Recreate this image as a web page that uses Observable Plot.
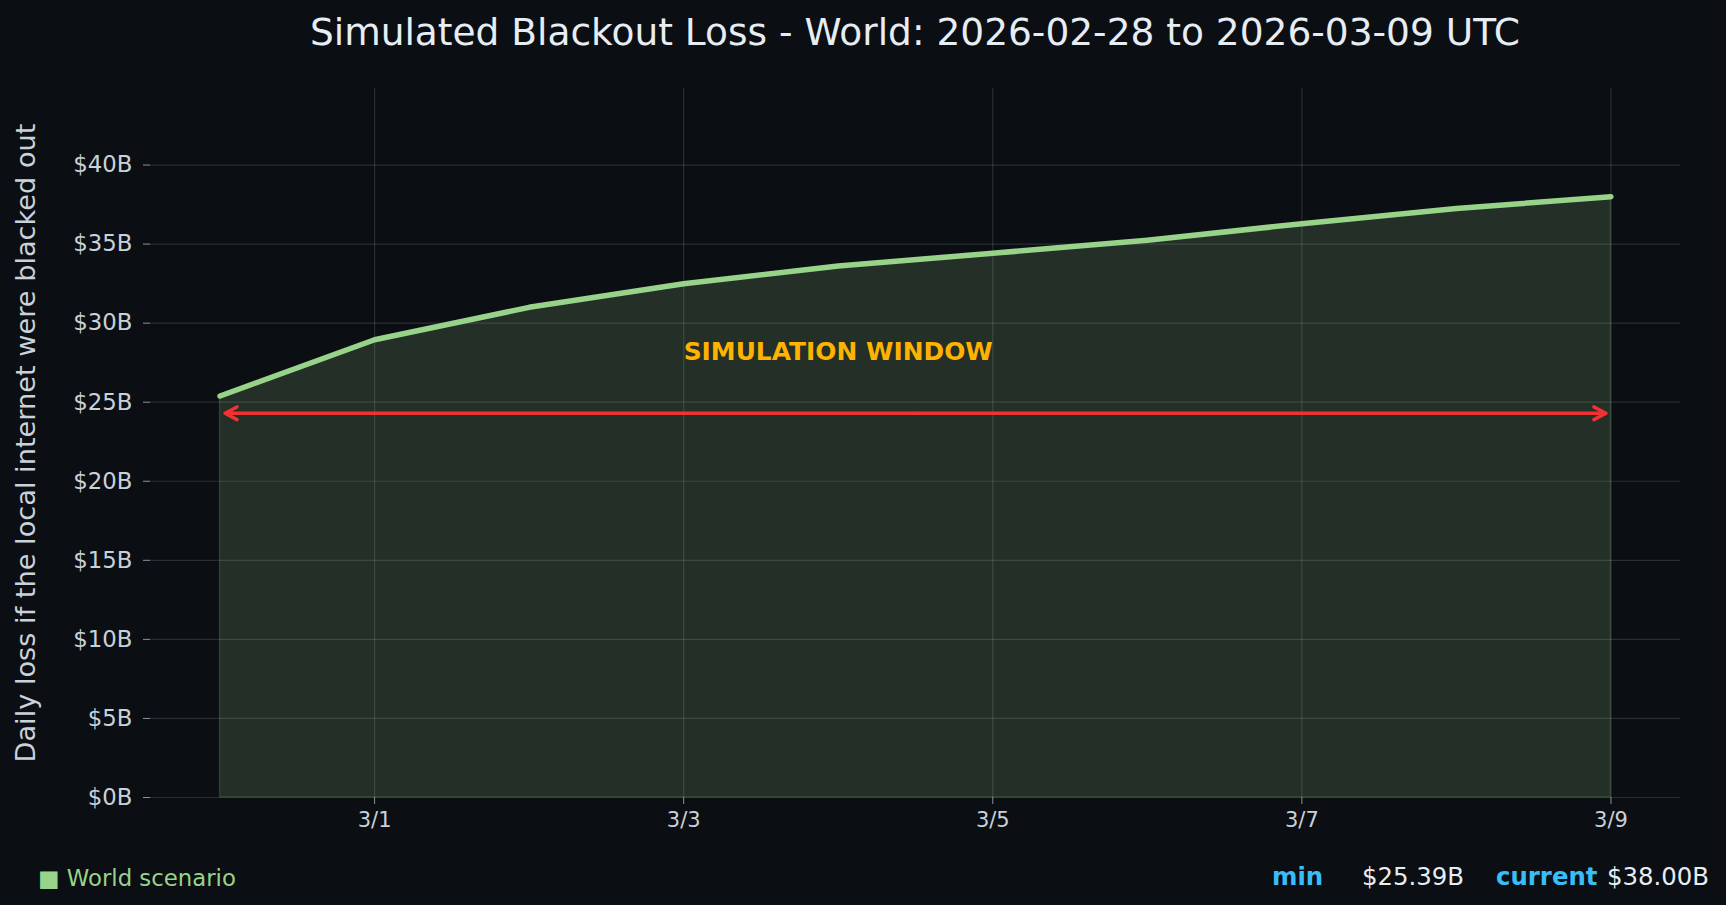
<!DOCTYPE html>
<html>
<head>
<meta charset="utf-8">
<script src="https://cdn.jsdelivr.net/npm/d3@7"></script>
<script src="https://cdn.jsdelivr.net/npm/@observablehq/plot@0.6"></script>
<style>
  html, body { margin: 0; padding: 0; background: #0b0e13; }
  #wrap { position: relative; width: 1726px; height: 905px; background: #0b0e13; overflow: hidden; font-family: "DejaVu Sans", sans-serif; }
  #chart { position: absolute; left: 0; top: 0; }
  .abs { position: absolute; white-space: nowrap; }
  #title { left: 150px; width: 1530px; text-align: center; top: 13px; font-size: 37.5px; line-height: 38px; color: #e6edf3; }
  .foot { top: 865px; font-size: 24.4px; line-height: 24px; }
</style>
</head>
<body>
<div id="wrap">
  <div id="chart"></div>
  <div id="title" class="abs">Simulated Blackout Loss - World: 2026-02-28 to 2026-03-09 UTC</div>
  <div class="abs foot" style="left:38px;color:#98d38a;font-size:22.8px;top:866px">■ World scenario</div>
  <div class="abs foot" style="left:1272px;color:#38bdf8;font-weight:bold">min</div>
  <div class="abs foot" style="left:1362px;color:#e6edf3">$25.39B</div>
  <div class="abs foot" style="left:1496px;color:#38bdf8;font-weight:bold">current</div>
  <div class="abs foot" style="left:1607px;color:#e6edf3">$38.00B</div>
</div>
<script>
// ---- data ----
const dates = ["2026-02-28","2026-03-01","2026-03-02","2026-03-03","2026-03-04","2026-03-05","2026-03-06","2026-03-07","2026-03-08","2026-03-09"];
const loss = [25.39, 28.95, 31.0, 32.49, 33.62, 34.42, 35.25, 36.29, 37.25, 38.00];
const yTicks = [0, 5, 10, 15, 20, 25, 30, 35, 40];
const xTickDates = ["2026-03-01","2026-03-03","2026-03-05","2026-03-07","2026-03-09"];
const windowStart = "2026-02-28";
const windowEnd = "2026-03-09";
const windowArrowY = 24.3;
const windowLabel = "SIMULATION WINDOW";
const windowLabelDate = "2026-03-04";
const windowLabelY = 28.15;
const yLabel = "Daily loss if the local internet were blacked out";
const yMax = 44.84;

// ---- build ----
const parse = d3.utcParse("%Y-%m-%d");
const data = dates.map((d, i) => ({date: parse(d), loss: loss[i]}));
const xTicks = xTickDates.map(parse);
const ws = parse(windowStart), we = parse(windowEnd);
const day = 864e5;
const mid = new Date((+ws + +we) / 2);
const arrows = [
  {x1: mid, x2: ws, y: windowArrowY},
  {x1: mid, x2: we, y: windowArrowY}
];
const fmt = d => `${d.getUTCMonth() + 1}/${d.getUTCDate()}`;

const chart = Plot.plot({
  width: 1726,
  height: 905,
  marginTop: 88,
  marginBottom: 108,
  marginLeft: 150,
  marginRight: 46,
  style: {background: "transparent", color: "#c9d1d9", fontFamily: "DejaVu Sans", overflow: "visible"},
  x: {type: "utc", domain: [new Date(+ws - 0.45 * day), new Date(+we + 0.45 * day)]},
  y: {domain: [0, yMax]},
  marks: [
    Plot.gridY(yTicks, {stroke: "#ffffff", strokeOpacity: 0.13, strokeWidth: 1.2}),
    Plot.gridX(xTicks, {stroke: "#ffffff", strokeOpacity: 0.13, strokeWidth: 1.2}),
    Plot.areaY(data, {x: "date", y: "loss", fill: "#98d38a", fillOpacity: 0.175, stroke: "#98d38a", strokeOpacity: 0.18, strokeWidth: 1.5}),
    Plot.lineY(data, {x: "date", y: "loss", stroke: "#98d38a", strokeWidth: 5.5}),
    Plot.arrow(arrows, {x1: "x1", x2: "x2", y1: "y", y2: "y", stroke: "#f03232", strokeWidth: 3.5, headLength: 5.8, headAngle: 56, insetEnd: 5}),
    Plot.text([windowLabel], {x: () => parse(windowLabelDate), y: () => windowLabelY, text: d => d, fill: "#ffb300", fontSize: 24.9, fontWeight: "bold"}),
    Plot.axisY(yTicks, {tickFormat: d => `$${d}B`, tickSize: 7, tickPadding: 11, fontSize: 22.8, stroke: "#8b949e", fill: "#c9d1d9", label: null}),
    Plot.axisX(xTicks, {tickFormat: fmt, tickSize: 7, tickPadding: 8, fontSize: 21, stroke: "#8b949e", fill: "#c9d1d9", label: null}),
    Plot.text([yLabel], {frameAnchor: "left", textAnchor: "middle", rotate: -90, dx: -124, fontSize: 27.2, fill: "#c9d1d9", text: d => d})
  ]
});
document.getElementById("chart").appendChild(chart);
</script>
</body>
</html>
